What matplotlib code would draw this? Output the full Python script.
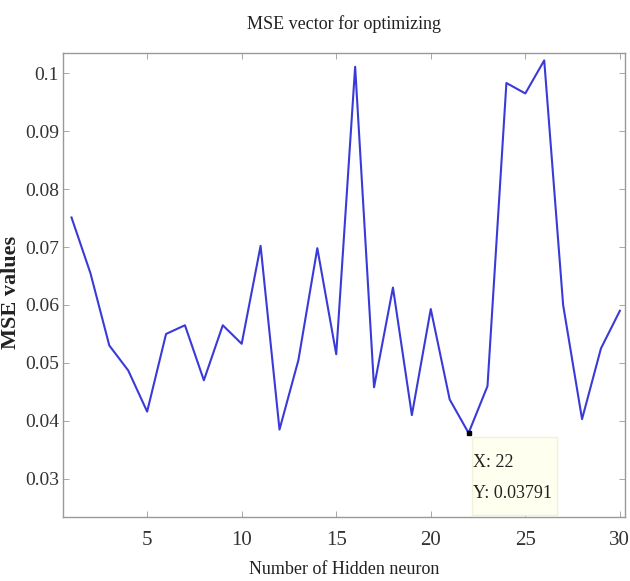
import numpy as np
import matplotlib
matplotlib.use("Agg")
import matplotlib.pyplot as plt
from matplotlib.patches import Rectangle

# hidden neuron count vs MSE
neurons = list(range(1, 31))
mse = [0.0751, 0.0655, 0.0530, 0.0487, 0.0416, 0.0550, 0.0565, 0.0470, 0.0565, 0.0533,
       0.0702, 0.0385, 0.0505, 0.0698, 0.0515, 0.1011, 0.0458, 0.0630, 0.0410, 0.0593,
       0.0437, 0.03791, 0.0460, 0.0983, 0.0965, 0.1022, 0.0600, 0.0403, 0.0525, 0.0590]

xticks = [5, 10, 15, 20, 25, 30]
yticks = [0.03, 0.04, 0.05, 0.06, 0.07, 0.08, 0.09, 0.1]
ytick_labels = ["0.03", "0.04", "0.05", "0.06", "0.07", "0.08", "0.09", "0.1"]

tip_x = 22
tip_y = 0.03791

plt.rcParams['font.family'] = ['Liberation Serif', 'DejaVu Serif']

fig = plt.figure(figsize=(6.3, 5.81), dpi=100)
ax = fig.add_axes([0.1, 0.110, 0.892, 0.799])

ax.plot(neurons, mse, color='#3a3ad8', linewidth=1.5)

ax.set_xlim(0.55, 30.27)
ax.set_ylim(0.0234, 0.1035)
ax.set_xticks(xticks)
ax.set_yticks(yticks)
ax.set_yticklabels(ytick_labels)

ax.tick_params(direction='in', top=True, right=True, length=4, width=0.6,
               colors='#999999', labelcolor='#333333', labelsize=15)
ax.tick_params(axis='x', pad=10)
ax.tick_params(axis='y', labelsize=14, pad=3)
for s in ax.spines.values():
    s.set_color('#999999')
    s.set_linewidth(1.0)

ax.set_title('MSE vector for optimizing', fontsize=13, color='#222222', pad=17)
ax.set_xlabel('Number of Hidden neuron', fontsize=13, color='#222222', labelpad=8)
ax.set_ylabel('MSE values', fontsize=16, fontweight='bold', color='#222222')
ax.yaxis.set_label_coords(-0.075, 0.485)

# data tip box like the MATLAB data cursor
ax.add_patch(Rectangle((0.728, 0.004), 0.151, 0.168, transform=ax.transAxes,
                       facecolor='#fffff0', edgecolor='#f3f0d8', linewidth=1.0, zorder=3))
ax.plot([tip_x], [tip_y], marker='s', color='black', markersize=3.5, linestyle='none', zorder=4)
ax.annotate('X: %d\nY: %.5f' % (tip_x, tip_y), xy=(tip_x, tip_y), xytext=(3, -15),
            textcoords='offset points', ha='left', va='top', fontsize=13,
            color='#222222', linespacing=2.1, zorder=5)

fig.savefig('out.png', dpi=100)
